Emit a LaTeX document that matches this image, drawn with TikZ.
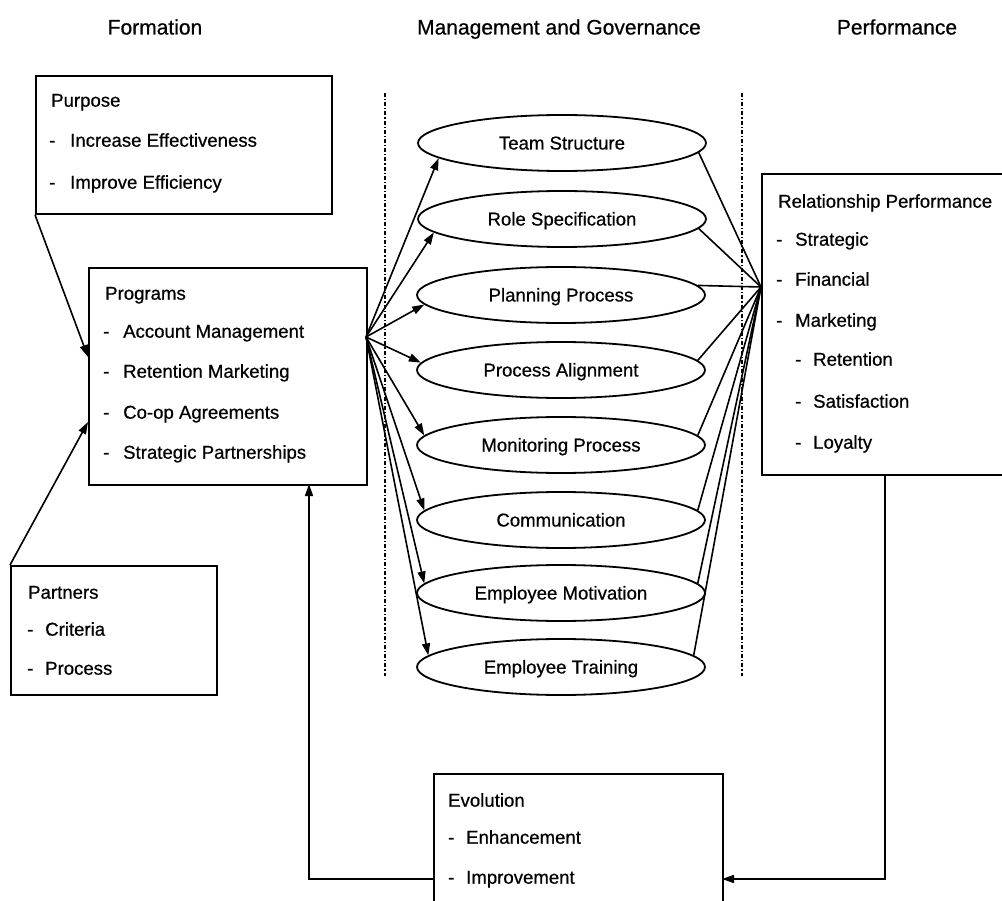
\documentclass[tikz,border=0pt]{standalone}
\usepackage{fontspec}
\setmainfont{Liberation Sans}[FakeBold=0.6]
\usetikzlibrary{shapes.geometric,arrows.meta}
\begin{document}
\begin{tikzpicture}[x=1pt,y=-1pt,
  boxn/.style={draw,line width=1.8pt,inner sep=0pt,anchor=north west},
  txt/.style={inner sep=0pt,anchor=base west,font=\fontsize{18.6}{20}\selectfont},
  ttl/.style={inner sep=0pt,anchor=base,font=\fontsize{21}{24}\selectfont},
  ell/.style={ellipse,draw,line width=1.8pt,minimum width=288pt,minimum height=56pt,inner sep=0pt,
              font=\fontsize{18.6}{20}\selectfont,text height=13pt,text depth=0pt},
  arr/.style={line width=1.6pt,-{Triangle[length=12pt,width=8pt]}},
  ln/.style={line width=1.6pt},
  dd/.style={line width=1.3pt,dash pattern=on 4pt off 2pt on 1.2pt off 2pt}]
\useasboundingbox (0,0) rectangle (1002,901);
\clip (0,0) rectangle (1002,901);

% titles
\node[ttl] (t1) at (155,34.5) {Formation};
\node[ttl] (t2) at (559,34.5) {Management and Governance};
\node[ttl] (t3) at (897,34.5) {Performance};

% dash-dot separators
\draw[dd] (385,93) -- (385,676);
\draw[dd] (742,93) -- (742,676);

% Purpose box
\node[boxn,minimum width=296pt,minimum height=138pt] (pur) at (35,75) {};
\node[txt] (purT) at (51,106.7) {Purpose};
\node[txt] (pur1d) at (49,146.7) {-};
\node[txt] (pur1) at (70,146.7) {Increase Effectiveness};
\node[txt] (pur2d) at (49,188.7) {-};
\node[txt] (pur2) at (70,188.7) {Improve Efficiency};

% Programs box
\node[boxn,minimum width=278pt,minimum height=217pt] (prog) at (88,267) {};
\node[txt] (progT) at (105,299.7) {Programs};
\node[txt] (prog1d) at (103,337.7) {-};
\node[txt] (prog1) at (123,337.7) {Account Management};
\node[txt] (prog2d) at (103,377.7) {-};
\node[txt] (prog2) at (123,377.7) {Retention Marketing};
\node[txt] (prog3d) at (103,418.7) {-};
\node[txt] (prog3) at (123,418.7) {Co-op Agreements};
\node[txt] (prog4d) at (103,458.7) {-};
\node[txt] (prog4) at (123,458.7) {Strategic Partnerships};

% Partners box
\node[boxn,minimum width=206pt,minimum height=129pt] (par) at (10,565) {};
\node[txt] (parT) at (28,598.7) {Partners};
\node[txt] (par1d) at (27,635.7) {-};
\node[txt] (par1) at (45,635.7) {Criteria};
\node[txt] (par2d) at (27,674.7) {-};
\node[txt] (par2) at (45,674.7) {Process};

% Relationship Performance box
\node[boxn,minimum width=260pt,minimum height=301pt] (rp) at (761,173) {};
\node[txt] (rpT) at (778,207.7) {Relationship Performance};
\node[txt] (rp1d) at (776,245.7) {-};
\node[txt] (rp1) at (795,245.7) {Strategic};
\node[txt] (rp2d) at (776,285.7) {-};
\node[txt] (rp2) at (795,285.7) {Financial};
\node[txt] (rp3d) at (776,326.7) {-};
\node[txt] (rp3) at (795,326.7) {Marketing};
\node[txt] (rp4d) at (795,365.7) {-};
\node[txt] (rp4) at (813,365.7) {Retention};
\node[txt] (rp5d) at (795,407.7) {-};
\node[txt] (rp5) at (813,407.7) {Satisfaction};
\node[txt] (rp6d) at (795,448.7) {-};
\node[txt] (rp6) at (813,448.7) {Loyalty};

% Evolution box
\node[boxn,minimum width=289pt,minimum height=160pt] (evo) at (433,773) {};
\node[txt] (evoT) at (448,806.7) {Evolution};
\node[txt] (evo1d) at (448,843.7) {-};
\node[txt] (evo1) at (466,843.7) {Enhancement};
\node[txt] (evo2d) at (448,883.7) {-};
\node[txt] (evo2) at (466,883.7) {Improvement};

% ellipses
\node[ell] (e1) at (562,143) {Team Structure};
\node[ell] (e2) at (562,219) {Role Specification};
\node[ell] (e3) at (561,295) {Planning Process};
\node[ell] (e4) at (561,370) {Process Alignment};
\node[ell] (e5) at (561,445) {Monitoring Process};
\node[ell] (e6) at (561,520) {Communication};
\node[ell] (e7) at (561,593) {Employee Motivation};
\node[ell] (e8) at (561,667) {Employee Training};

% connector points
\coordinate (src) at (366,337);
\coordinate (conv) at (761,287);
\coordinate (pin1) at (88,357);
\coordinate (pin2) at (88,422);
\coordinate (pbot) at (309,484);
\coordinate (evL) at (433,879);
\coordinate (rpb) at (885,474);
\coordinate (evR) at (722,879);

% formation arrows
\draw[arr] (pur.south west) -- (pin1);
\draw[arr] (par.north west) -- (pin2);

% programs -> ellipses
\draw[arr] (src) -- (e1.187);
\draw[arr] (src) -- (e2.186);
\draw[arr] (src) -- (e3.184);
\draw[arr] (src) -- (e4.177);
\draw[arr] (src) -- (e5.176);
\draw[arr] (src) -- (e6.176);
\draw[arr] (src) -- (e7.176);
\draw[arr] (src) -- (e8.175);

% ellipses -> performance
\draw[ln] (e1.356) -- (conv);
\draw[ln] (e2.356) -- (conv);
\draw[ln] (e3.4) -- (conv);
\draw[ln] (e4.4) -- (conv);
\draw[ln] (e5.4) -- (conv);
\draw[ln] (e6.4) -- (conv);
\draw[ln] (e7.4) -- (conv);
\draw[ln] (e8.5) -- (conv);

% feedback loop
\draw[arr] (rpb) |- (evR);
\draw[arr] (evL) -| (pbot);
\end{tikzpicture}
\end{document}
